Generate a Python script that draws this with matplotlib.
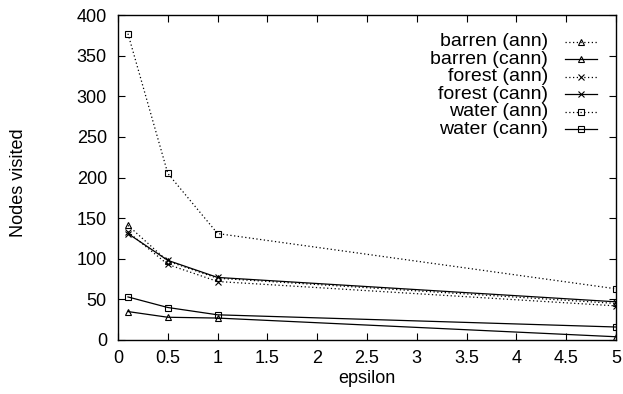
import matplotlib
matplotlib.use("Agg")
import matplotlib.pyplot as plt

eps = [0.1, 0.5, 1, 5]
barren_ann = [141, 97, 76, 45]
barren_cann = [35, 28, 27, 4]
forest_ann = [133, 93, 72, 42]
forest_cann = [131, 98, 77, 47]
water_ann = [377, 205, 131, 63]
water_cann = [53, 40, 31, 16]

labels = ["barren (ann)", "barren (cann)", "forest (ann)",
          "forest (cann)", "water (ann)", "water (cann)"]
values = [barren_ann, barren_cann, forest_ann, forest_cann, water_ann, water_cann]
styles = [(0, (1, 2)), '-', (0, (1, 2)), '-', (0, (1, 2)), '-']
markers = ['^', '^', 'x', 'x', 's', 's']

plt.rcParams['font.family'] = ['Liberation Sans', 'DejaVu Sans']
fig = plt.figure(figsize=(6.23, 3.94), dpi=100)
ax = fig.add_axes([118/623, 1 - 340/394, 498/623, 325/394])

def mk_kw(mk):
    return dict(marker=mk, markersize=5 if mk != 's' else 5,
                markerfacecolor='none', markeredgecolor='black',
                markeredgewidth=0.8)

for lab, vals, ls, mk in zip(labels, values, styles, markers):
    ax.plot(eps, vals, linestyle=ls, color='black', linewidth=0.9,
            label=lab, **mk_kw(mk))

ax.set_xlim(0, 5)
ax.set_ylim(0, 400)
ax.set_xticks([0, 0.5, 1, 1.5, 2, 2.5, 3, 3.5, 4, 4.5, 5])
ax.set_xticklabels(['0', '0.5', '1', '1.5', '2', '2.5', '3', '3.5', '4', '4.5', '5'])
ax.set_yticks(range(0, 401, 50))
ax.tick_params(direction='in', top=True, right=True, length=5, width=0.8,
               labelsize=13)
ax.tick_params(axis='x', pad=7)
ax.tick_params(axis='y', pad=8)
for s in ax.spines.values():
    s.set_linewidth(1.0)
ax.set_xlabel('epsilon', fontsize=13)
ax.xaxis.set_label_coords(0.5, -0.092)
ax.set_ylabel('Nodes visited', fontsize=13)
ax.yaxis.set_label_coords(-0.183, 0.485)

# manual gnuplot-style key: right-aligned text, sample to the right
x_text = (548 - 118) / 498
x0 = (565 - 118) / 498
x1 = (597 - 118) / 498
xm = (x0 + x1) / 2
y0 = (340 - 42) / 325
dy = 17.4 / 325
for i, (lab, ls, mk) in enumerate(zip(labels, styles, markers)):
    y = y0 - i * dy
    ax.text(x_text, y, lab, transform=ax.transAxes, ha='right', va='center',
            fontsize=14)
    ax.plot([x0, x1], [y, y], transform=ax.transAxes, linestyle=ls,
            color='black', linewidth=0.9, clip_on=False)
    ax.plot([xm], [y], transform=ax.transAxes, linestyle='none',
            clip_on=False, **mk_kw(mk))

fig.savefig('out.png', dpi=100)
